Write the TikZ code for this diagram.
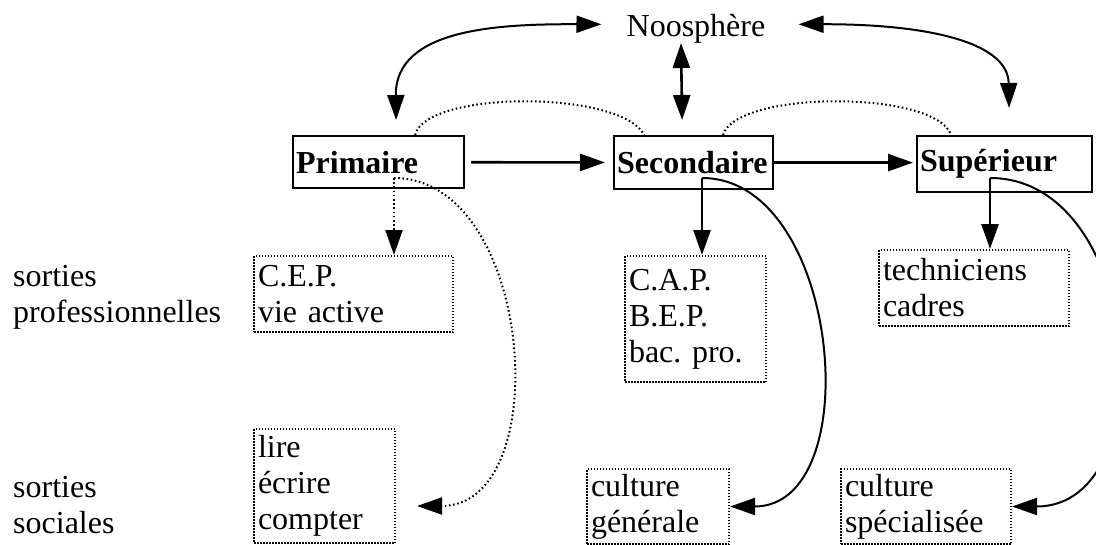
\documentclass[tikz,border=0pt]{standalone}
\usepackage{fontspec}
\setmainfont{Liberation Serif}
\usetikzlibrary{arrows.meta}
\frenchspacing

\begin{document}
\begin{tikzpicture}[
    x=1pt, y=-1pt,
    every node/.style={font=\fontsize{32}{36}\selectfont, inner sep=0pt},
    stage/.style={draw, line width=2.2pt, anchor=north west, align=left,
                  inner xsep=3pt, font=\fontsize{32}{36}\selectfont\bfseries},
    outlet/.style={draw, line width=2pt, dash pattern=on 1.5pt off 1.5pt,
                   anchor=north west, align=left, inner xsep=4pt},
    arrowhead/.style={-{Triangle[length=25pt, width=17pt]}},
    twoway/.style={{Triangle[length=25pt, width=17pt]}-{Triangle[length=25pt, width=17pt]}},
    flow/.style={arrowhead, line width=2.6pt},
    swing/.style={arrowhead, line width=2pt},
    trace/.style={line width=2pt, dash pattern=on 1.6pt off 2.6pt},
  ]
  \useasboundingbox (0,0) rectangle (1096,544);

  % levels
  \node (noo) [anchor=base] at (696,36) {Noosphère};
  \node (pri) [stage, text width=165pt, minimum height=52pt] at (292,135) {Primaire};
  \node (sec) [stage, text width=153pt, minimum height=53pt] at (613,135) {Secondaire};
  \node (sup) [stage, text width=169pt, minimum height=56pt] at (916,135) {Supérieur};

  % outlets
  \node (sprof) [anchor=north west, align=left] at (13,265) {sorties\\professionnelles};
  \node (ssoc) [anchor=north west, align=left] at (13,476) {sorties\\sociales};
  \node (cep) [outlet, text width=191pt, minimum height=76pt] at (253,255) {C.E.P.\\vie active};
  \node (cap) [outlet, text width=133pt, minimum height=126pt] at (624,255) {C.A.P.\\B.E.P.\\bac. pro.};
  \node (tech) [outlet, text width=182pt, minimum height=76pt] at (878,249) {techniciens\\cadres};
  \node (lire) [outlet, text width=133pt, minimum height=114pt] at (253,428) {lire\\écrire\\compter};
  \node (culg) [outlet, text width=134pt, minimum height=75pt] at (586,468) {culture\\générale};
  \node (culs) [outlet, text width=162pt, minimum height=75pt] at (840,468) {culture\\spécialisée};

  \coordinate (pout) at (394,178);
  \coordinate (sout) at (702,178);
  \coordinate (uout) at (990,178);

  % noosphere
  \draw[swing, twoway] ([xshift=-25pt, yshift=4pt]noo.west)
    .. controls (500,24) and (395,28) .. ([xshift=17.5pt, yshift=15pt]pri.north);
  \draw[swing, twoway] ([xshift=33pt, yshift=4pt]noo.east)
    .. controls (920,24) and (1008,40) .. ([xshift=4.5pt, yshift=27pt]sup.north);
  \draw[flow, twoway] ([xshift=-15pt]noo.south) -- ([xshift=-11.5pt, yshift=15pt]sec.north);

  % between levels
  \draw[flow, shorten <=6pt, shorten >=8pt] (pri) -- (sec);
  \draw[flow, shorten >=3pt] (sec.east) -- (sec.east -| sup.west);
  \draw[trace] ([xshift=36.5pt]pri.north) .. controls +(11,-45) and +(-23,-45) .. ([xshift=-49.5pt]sec.north);
  \draw[trace] ([xshift=29.5pt]sec.north) .. controls +(13,-45) and +(-15,-45) .. ([xshift=-53.5pt]sup.north);

  % exits
  \draw[trace, arrowhead] (pout) -- (pout |- cep.north);
  \draw[flow] (sout) -- (sout |- cap.north);
  \draw[flow] (uout) -- (uout |- tech.north);
  \draw[trace, arrowhead] (pout) to[out=0, in=0, looseness=1.09] ([xshift=21pt, yshift=-20pt]lire.east);
  \draw[swing] (sout) to[out=0, in=0, looseness=1.08] (culg.east);
  \draw[swing] (uout) to[out=0, in=0, looseness=1.2] (culs.east);
\end{tikzpicture}
\end{document}
